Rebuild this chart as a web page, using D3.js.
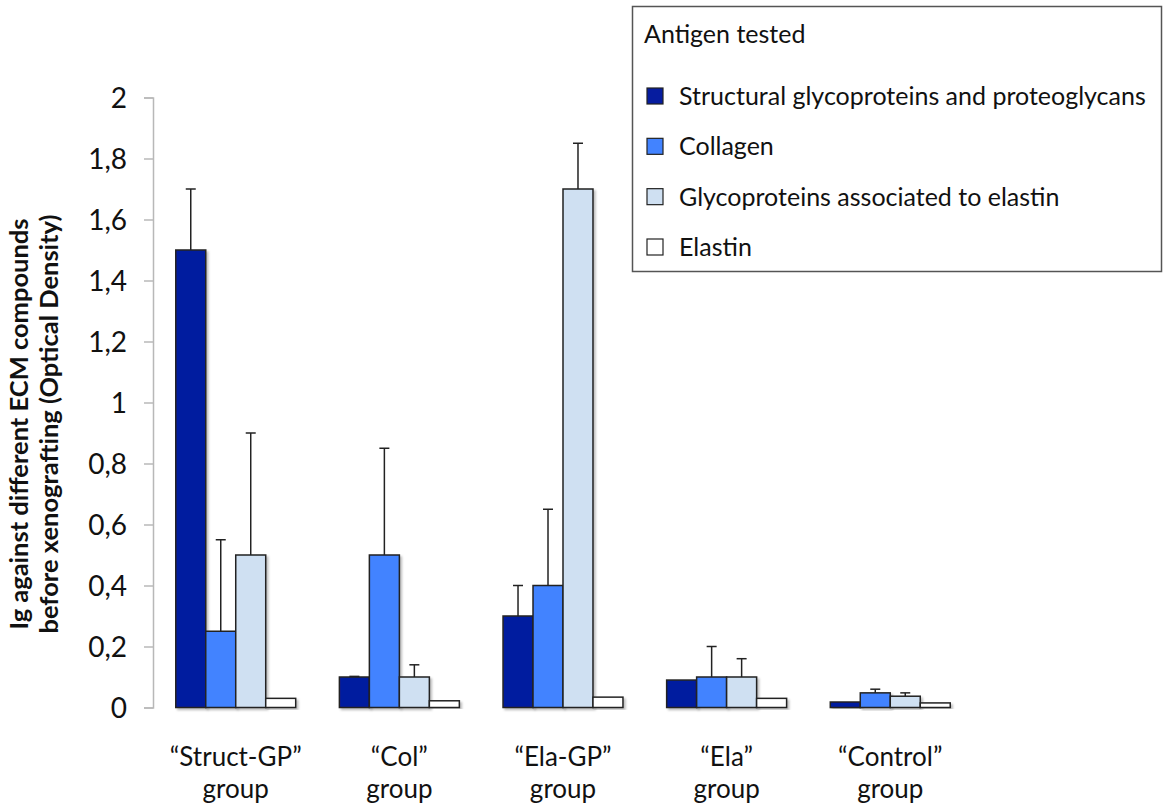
<!DOCTYPE html>
<html><head><meta charset="utf-8">
<script src="https://cdn.jsdelivr.net/npm/d3@7"></script>
<style>body{margin:0;background:#fff}svg{display:block}text{font-family:Lato,"Open Sans",sans-serif}</style>
</head><body><svg id="c" width="1164" height="807"></svg>
<script>
const groups = ["“Struct-GP”|group", "“Col”|group", "“Ela-GP”|group", "“Ela”|group", "“Control”|group"];
const series = ["Structural glycoproteins and proteoglycans", "Collagen", "Glycoproteins associated to elastin", "Elastin"];
const colors = ["#061c9f", "#4283ff", "#cfe0f2", "#ffffff"];
const valSGP = [1.5, 0.1, 0.3, 0.09, 0.018];
const valCol = [0.25, 0.5, 0.4, 0.1, 0.048];
const valGPE = [0.5, 0.1, 1.7, 0.1, 0.037];
const valEla = [0.03, 0.022, 0.034, 0.03, 0.015];
const errSGP = [1.7, 0.102, 0.4, null, null];
const errCol = [0.55, 0.85, 0.65, 0.2, 0.06];
const errGPE = [0.9, 0.14, 1.85, 0.16, 0.048];
const errEla = [null, null, null, null, null];
const yTicks = [0, 0.2, 0.4, 0.6, 0.8, 1, 1.2, 1.4, 1.6, 1.8, 2];
const yTitle = ["Ig against different ECM compounds", "before xenografting (Optical Density)"];
const legendTitle = "Antigen tested";

const vals = [valSGP, valCol, valGPE, valEla];
const errs = [errSGP, errCol, errGPE, errEla];

const svg = d3.select("#c");
const defs = svg.append("defs");
const f = defs.append("filter").attr("id","sh").attr("x","-10%").attr("y","-10%").attr("width","130%").attr("height","130%");
f.append("feDropShadow").attr("dx",2).attr("dy",2).attr("stdDeviation",1.2).attr("flood-color","#000").attr("flood-opacity",0.25);

const x0 = d3.scaleBand().domain(groups).range([154, 972]).paddingInner(0.267).paddingOuter(0.133);
const x1 = d3.scaleBand().domain(series).range([0, x0.bandwidth()]);
const y = d3.scaleLinear().domain([0, 2]).range([707.5, 97.5]);

// axis
const ax = svg.append("g").attr("transform","translate(153,0)").call(d3.axisLeft(y).tickValues(yTicks).tickSize(9).tickPadding(17).tickFormat(d => String(d).replace(".", ",")));
ax.select(".domain").attr("stroke","#b8b8b8").attr("stroke-width",1.5);
ax.selectAll(".tick line").attr("stroke","#b8b8b8").attr("stroke-width",1.5);
ax.selectAll(".tick text").attr("font-size",28).attr("fill","#111").attr("font-family","Lato, sans-serif").attr("dy","0.34em");

// bars
const g = svg.append("g");
groups.forEach((grp, gi) => {
  series.forEach((s, si) => {
    const v = vals[si][gi];
    const bx = x0(grp) + x1(s);
    g.append("rect").attr("x", bx).attr("y", y(v)).attr("width", x1.bandwidth()).attr("height", y(0) - y(v))
      .attr("fill", colors[si]).attr("stroke", "#222").attr("stroke-width", 1.5).attr("filter","url(#sh)");
  });
});
// error bars
groups.forEach((grp, gi) => {
  series.forEach((s, si) => {
    const e = errs[si][gi];
    if (e == null) return;
    const v = vals[si][gi];
    const cx = x0(grp) + x1(s) + x1.bandwidth() / 2;
    g.append("line").attr("x1", cx).attr("x2", cx).attr("y1", y(v)).attr("y2", y(e)).attr("stroke", "#222").attr("stroke-width", 1.5);
    g.append("line").attr("x1", cx - 5).attr("x2", cx + 5).attr("y1", y(e)).attr("y2", y(e)).attr("stroke", "#222").attr("stroke-width", 1.5);
  });
});

// category labels
groups.forEach(grp => {
  const cx = x0(grp) + x0.bandwidth() / 2;
  const parts = grp.split("|");
  const t = svg.append("text").attr("x", cx).attr("text-anchor", "middle").attr("font-size", 26).attr("fill", "#111");
  t.append("tspan").attr("x", cx).attr("y", 766).text(parts[0]);
  t.append("tspan").attr("x", cx).attr("y", 798).text(parts[1]);
});

// y title
const yt = svg.append("g").attr("transform", "translate(0,424) rotate(-90)");
yt.append("text").attr("x", 0).attr("y", 28).attr("text-anchor", "middle").attr("font-size", 24).attr("font-weight", "bold").attr("fill", "#111")
  .attr("textLength", 411).attr("lengthAdjust", "spacingAndGlyphs").text(yTitle[0]);
yt.append("text").attr("x", 0).attr("y", 58).attr("text-anchor", "middle").attr("font-size", 24).attr("font-weight", "bold").attr("fill", "#111")
  .attr("textLength", 419).attr("lengthAdjust", "spacingAndGlyphs").text(yTitle[1]);

// legend
const lg = svg.append("g");
lg.append("rect").attr("x", 632.5).attr("y", 6.5).attr("width", 529).attr("height", 265).attr("fill", "#fff").attr("stroke", "#555").attr("stroke-width", 1.5);
lg.append("text").attr("x", 644).attr("y", 43).attr("font-size", 25).attr("fill", "#111").text(legendTitle);
const ly = d3.scalePoint().domain(series).range([96, 247]);
series.forEach((s, si) => {
  lg.append("rect").attr("x", 647).attr("y", ly(s) - 8).attr("width", 16).attr("height", 16).attr("fill", colors[si]).attr("stroke", "#222").attr("stroke-width", 1.2);
  lg.append("text").attr("x", 679).attr("y", ly(s) + 9).attr("font-size", 25).attr("fill", "#111").text(s);
});
</script></body></html>
